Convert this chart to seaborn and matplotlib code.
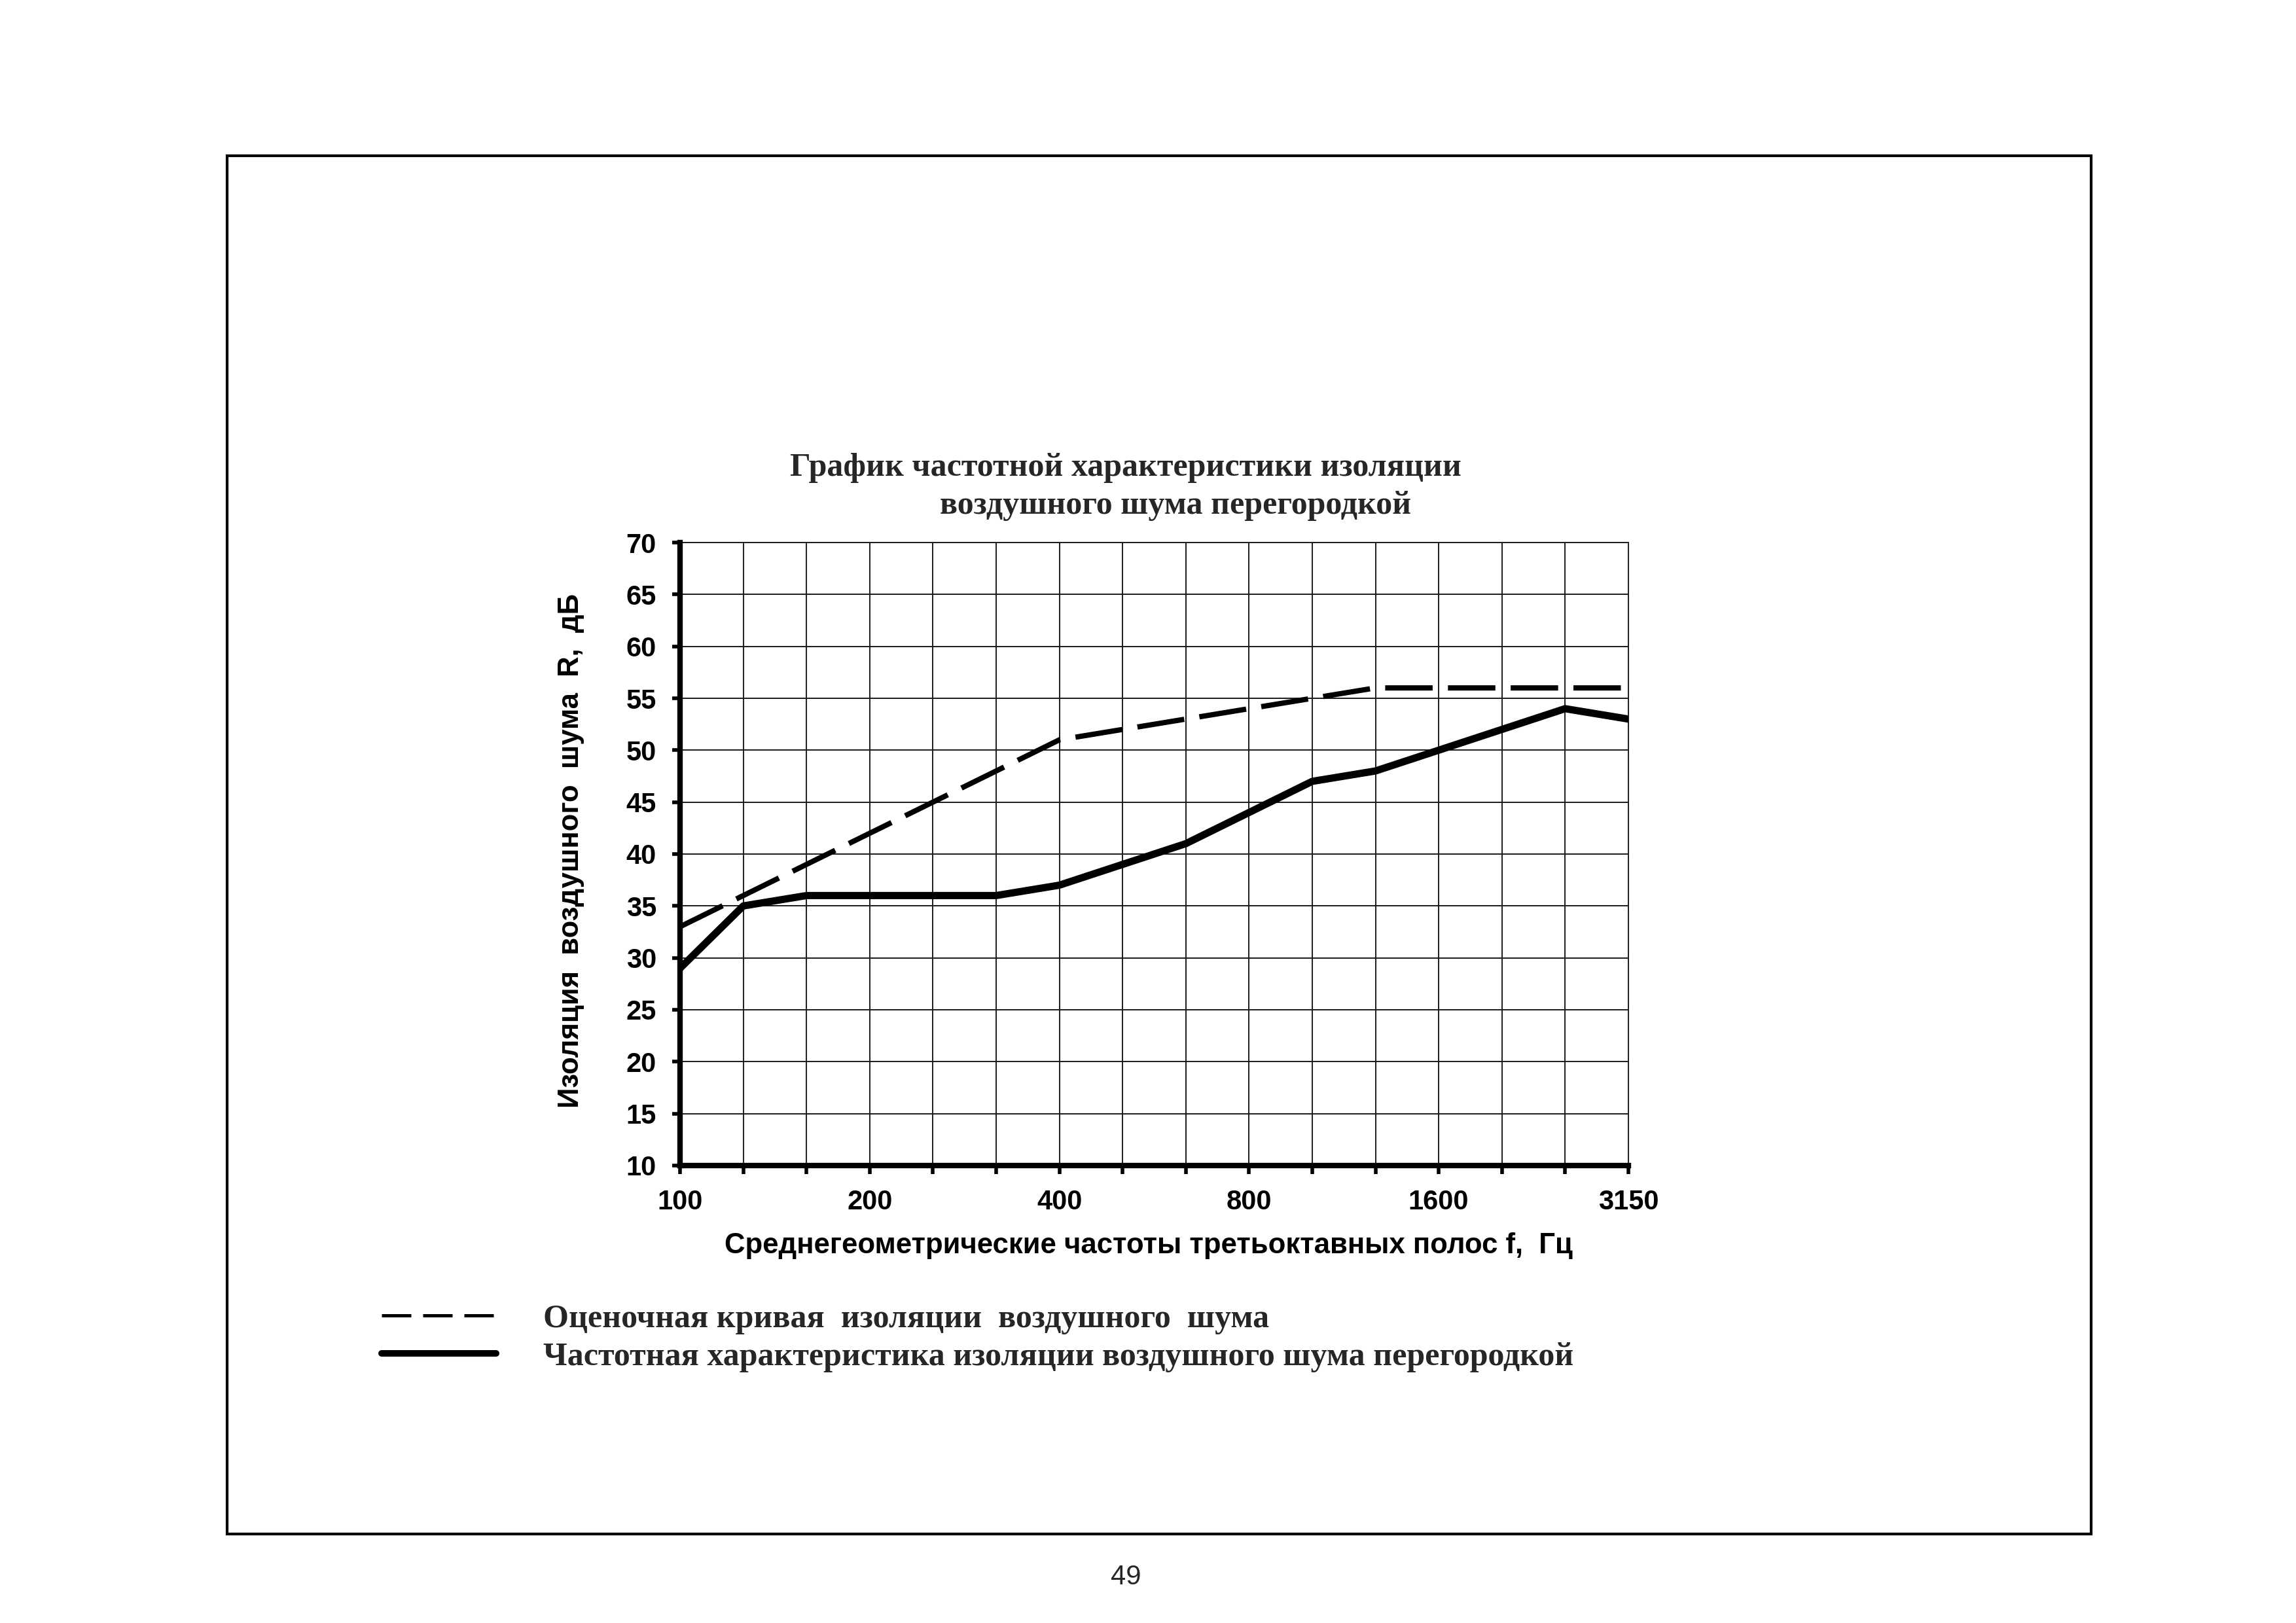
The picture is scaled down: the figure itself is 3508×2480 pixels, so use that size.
import numpy as np
import pandas as pd
import seaborn as sns
import matplotlib.pyplot as plt
from matplotlib.patches import Rectangle

# third-octave bands, Hz
BANDS = [100, 125, 160, 200, 250, 315, 400, 500, 630, 800, 1000, 1250, 1600, 2000, 2500, 3150]
# rating (reference) curve, dB
RATING_CURVE = [33, 36, 39, 42, 45, 48, 51, 52, 53, 54, 55, 56, 56, 56, 56, 56]
# measured insulation of the partition, dB
MEASURED = [29, 35, 36, 36, 36, 36, 37, 39, 41, 44, 47, 48, 50, 52, 54, 53]
SHOWN_BANDS = [100, 200, 400, 800, 1600, 3150]
Y_TICKS = [10, 15, 20, 25, 30, 35, 40, 45, 50, 55, 60, 65, 70]

TITLE_1 = "График частотной характеристики изоляции"
TITLE_2 = "воздушного шума перегородкой"
YLABEL = "Изоляция  воздушного  шума  R,  дБ"
XLABEL = "Среднегеометрические частоты третьоктавных полос f,  Гц"
LABEL_RATING = "Оценочная кривая  изоляции  воздушного  шума"
LABEL_MEASURED = "Частотная характеристика изоляции воздушного шума перегородкой"
PAGE = "49"

SANS = ['Liberation Sans', 'DejaVu Sans']
SERIF = ['Liberation Serif', 'DejaVu Serif']

sns.set_theme(style='white')
plt.rcParams['font.family'] = SANS
plt.rcParams['font.weight'] = 'bold'

df = pd.DataFrame({'pos': np.arange(len(BANDS)), 'band': BANDS,
                   'rating': RATING_CURVE, 'measured': MEASURED})

fig = plt.figure(figsize=(35.08, 24.8), dpi=100)
ax = fig.add_axes([0.2962, 0.2819, 0.4130, 0.3838])

sns.lineplot(data=df, x='pos', y='rating', ax=ax, color='black', lw=5.8,
             linestyle=(0, (9, 2.9)), label=LABEL_RATING)
sns.lineplot(data=df, x='pos', y='measured', ax=ax, color='black', lw=8,
             solid_joinstyle='round', label=LABEL_MEASURED)

ax.set_xlim(0, len(BANDS) - 1)
ax.set_ylim(10, 70)
ax.set_xticks(df['pos'], [str(b) if b in SHOWN_BANDS else '' for b in BANDS])
ax.set_yticks(Y_TICKS)
ax.grid(True, color='#1a1a1a', lw=1.4)
for gl in ax.get_xgridlines() + ax.get_ygridlines():
    gl.set_clip_on(False)

sns.despine(ax=ax)
for side in ['left', 'bottom']:
    ax.spines[side].set_linewidth(6)
    ax.spines[side].set_color('black')
ax.tick_params(axis='both', bottom=True, left=True, direction='out', length=9,
               width=4, color='black', labelsize=30, pad=17, labelcolor='black')

ax.set_xlabel(XLABEL, fontsize=31.5, fontweight='bold', color='black')
ax.xaxis.set_label_coords(0.494, -0.107)
ax.set_ylabel(YLABEL, fontsize=31.5, fontweight='bold', color='black')
ax.yaxis.set_label_coords(-0.101, 0.505)

fig.text(0.4903, 0.7069, TITLE_1, ha='center', va='baseline', family=SERIF,
         weight='bold', size=36)
fig.text(0.512, 0.6835, TITLE_2, ha='center', va='baseline', family=SERIF,
         weight='bold', size=36)

ax.get_legend().remove()
handles, labels = ax.get_legend_handles_labels()
leg = fig.legend(handles, labels, loc='upper left', bbox_to_anchor=(0.1661, 0.1964),
                 frameon=False, prop={'family': SERIF, 'weight': 'bold', 'size': 36},
                 handlelength=3.5, handletextpad=1.45, labelspacing=0.24,
                 borderpad=0, borderaxespad=0)
leg_lines = leg.get_lines()
leg_lines[0].set_linewidth(3.6)
leg_lines[0].set_linestyle((0, (9, 3.6)))
leg_lines[1].set_linewidth(7.2)
leg_lines[1].set_solid_capstyle('round')

# page frame and number
fig.add_artist(Rectangle((0.0989, 0.0548), 0.8119, 0.8492, transform=fig.transFigure,
                         fill=False, lw=3, ec='black'))
fig.text(0.4903, 0.0282, PAGE, ha='center', va='center', size=30, weight='normal')

fig.savefig('out.png', dpi=100)
